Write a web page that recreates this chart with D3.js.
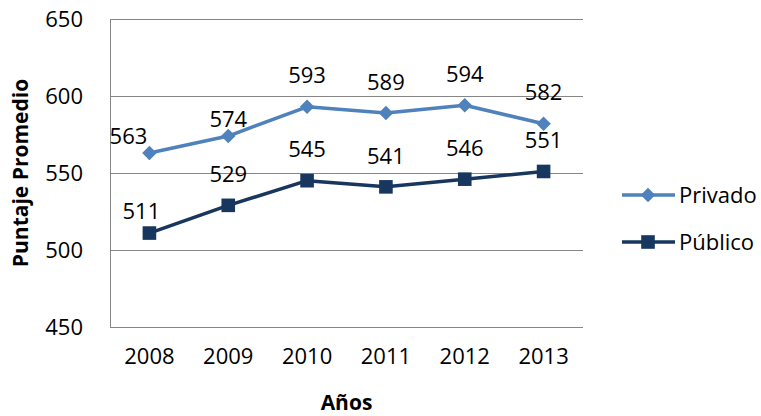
<!DOCTYPE html>
<html>
<head>
    <meta charset="UTF-8">
    <script src="https://d3js.org/d3.v7.min.js"></script>
    <title>Puntaje Promedio</title>
    <style>
        body{margin:0;background:#fff;}
        text{font-family:"Open Sans",sans-serif;fill:#000;}
    </style>
</head>
<body>
<div id="container"></div>
<script>
    // datos
    var years=['2008','2009','2010','2011','2012','2013']
    var privado=[563,574,593,589,594,582]
    var publico=[511,529,545,541,546,551]
    var yTicks=[450,500,550,600,650]

    var width=761,height=416
    var margin={left:110,top:19,right:178,bottom:89}
    var g_width=width-margin.left-margin.right,
        g_height=height-margin.top-margin.bottom

    var scale_x=d3.scaleBand().domain(years).range([0,g_width])
    var scale_y=d3.scaleLinear().domain([450,650]).range([g_height,0])

    var svg=d3.select('#container').append('svg')
        .attr('width',width).attr('height',height)
    var g=svg.append('g')
        .attr('transform','translate('+margin.left+','+margin.top+')')

    // lineas de cuadricula
    g.selectAll('.grid').data(yTicks).enter().append('line')
        .attr('x1',0).attr('x2',g_width)
        .attr('y1',function(d){return Math.round(scale_y(d))+0.5})
        .attr('y2',function(d){return Math.round(scale_y(d))+0.5})
        .attr('stroke','#868686').attr('stroke-width',1)

    // eje Y
    var yAxis=d3.axisLeft(scale_y).tickValues(yTicks).tickSize(0).tickPadding(27)
    var ya=g.append('g').call(yAxis)
    ya.select('.domain').attr('stroke','#868686').attr('d','M0.5,0V'+g_height)
    ya.selectAll('text').style('font-size','22px')

    // eje X
    var xAxis=d3.axisBottom(scale_x).tickSize(0).tickPadding(21)
    var xa=g.append('g').attr('transform','translate(0,'+g_height+')').call(xAxis)
    xa.select('.domain').remove()
    xa.selectAll('text').style('font-size','22px')

    var series=[
        {name:'Privado',values:privado,color:'#4F81BD',rot:45,size:105},
        {name:'Público',values:publico,color:'#17375E',rot:0,size:185}
    ]

    var line=d3.line()
        .x(function(d,i){return scale_x(years[i])+scale_x.bandwidth()/2})
        .y(function(d){return scale_y(d)})

    series.forEach(function(s,si){
        g.append('path').attr('d',line(s.values))
            .attr('fill','none').attr('stroke',s.color).attr('stroke-width',3.5)
            .attr('stroke-linejoin','round')
        g.selectAll('.m'+si).data(s.values).enter().append('path')
            .attr('d',d3.symbol().type(d3.symbolSquare).size(s.size))
            .attr('transform',function(d,i){
                return 'translate('+(scale_x(years[i])+scale_x.bandwidth()/2)+','+scale_y(d)+') rotate('+s.rot+')'})
            .attr('fill',s.color)
        // etiquetas: la primera se desplaza como en el original
        g.selectAll('.l'+si).data(s.values).enter().append('text')
            .attr('x',function(d,i){
                var x=scale_x(years[i])+scale_x.bandwidth()/2
                if(i==0) return si==0?x-21:x-8
                return x})
            .attr('y',function(d,i){
                var lift=31
                if(si==0&&i<2) lift=17
                if(si==1&&i==0) lift=22
                return scale_y(d)-lift})
            .attr('dy','0.35em')
            .attr('text-anchor','middle')
            .style('font-size','22px')
            .text(function(d){return d})
    })

    // leyenda
    var legend=svg.selectAll('.legend').data(series).enter().append('g')
        .attr('transform',function(d,i){return 'translate(622,'+(195+i*47)+')'})
    legend.append('line').attr('x1',0).attr('x2',53)
        .attr('stroke',function(d){return d.color}).attr('stroke-width',3.5)
    legend.append('path')
        .attr('d',function(d){return d3.symbol().type(d3.symbolSquare).size(d.size)()})
        .attr('transform',function(d){return 'translate(26,0) rotate('+d.rot+')'})
        .attr('fill',function(d){return d.color})
    legend.append('text').attr('x',57).attr('dy','0.35em')
        .style('font-size','22px').text(function(d){return d.name})

    // titulos de ejes
    svg.append('text').text('Años')
        .attr('x',margin.left+g_width/2).attr('y',403).attr('dy','0.35em')
        .attr('text-anchor','middle').style('font-size','21px').style('font-weight','bold')
    svg.append('text').text('Puntaje Promedio')
        .attr('transform','translate(21,'+(margin.top+g_height/2)+') rotate(-90)')
        .attr('dy','0.35em')
        .attr('text-anchor','middle').style('font-size','21px').style('font-weight','bold')
</script>
</body>
</html>
